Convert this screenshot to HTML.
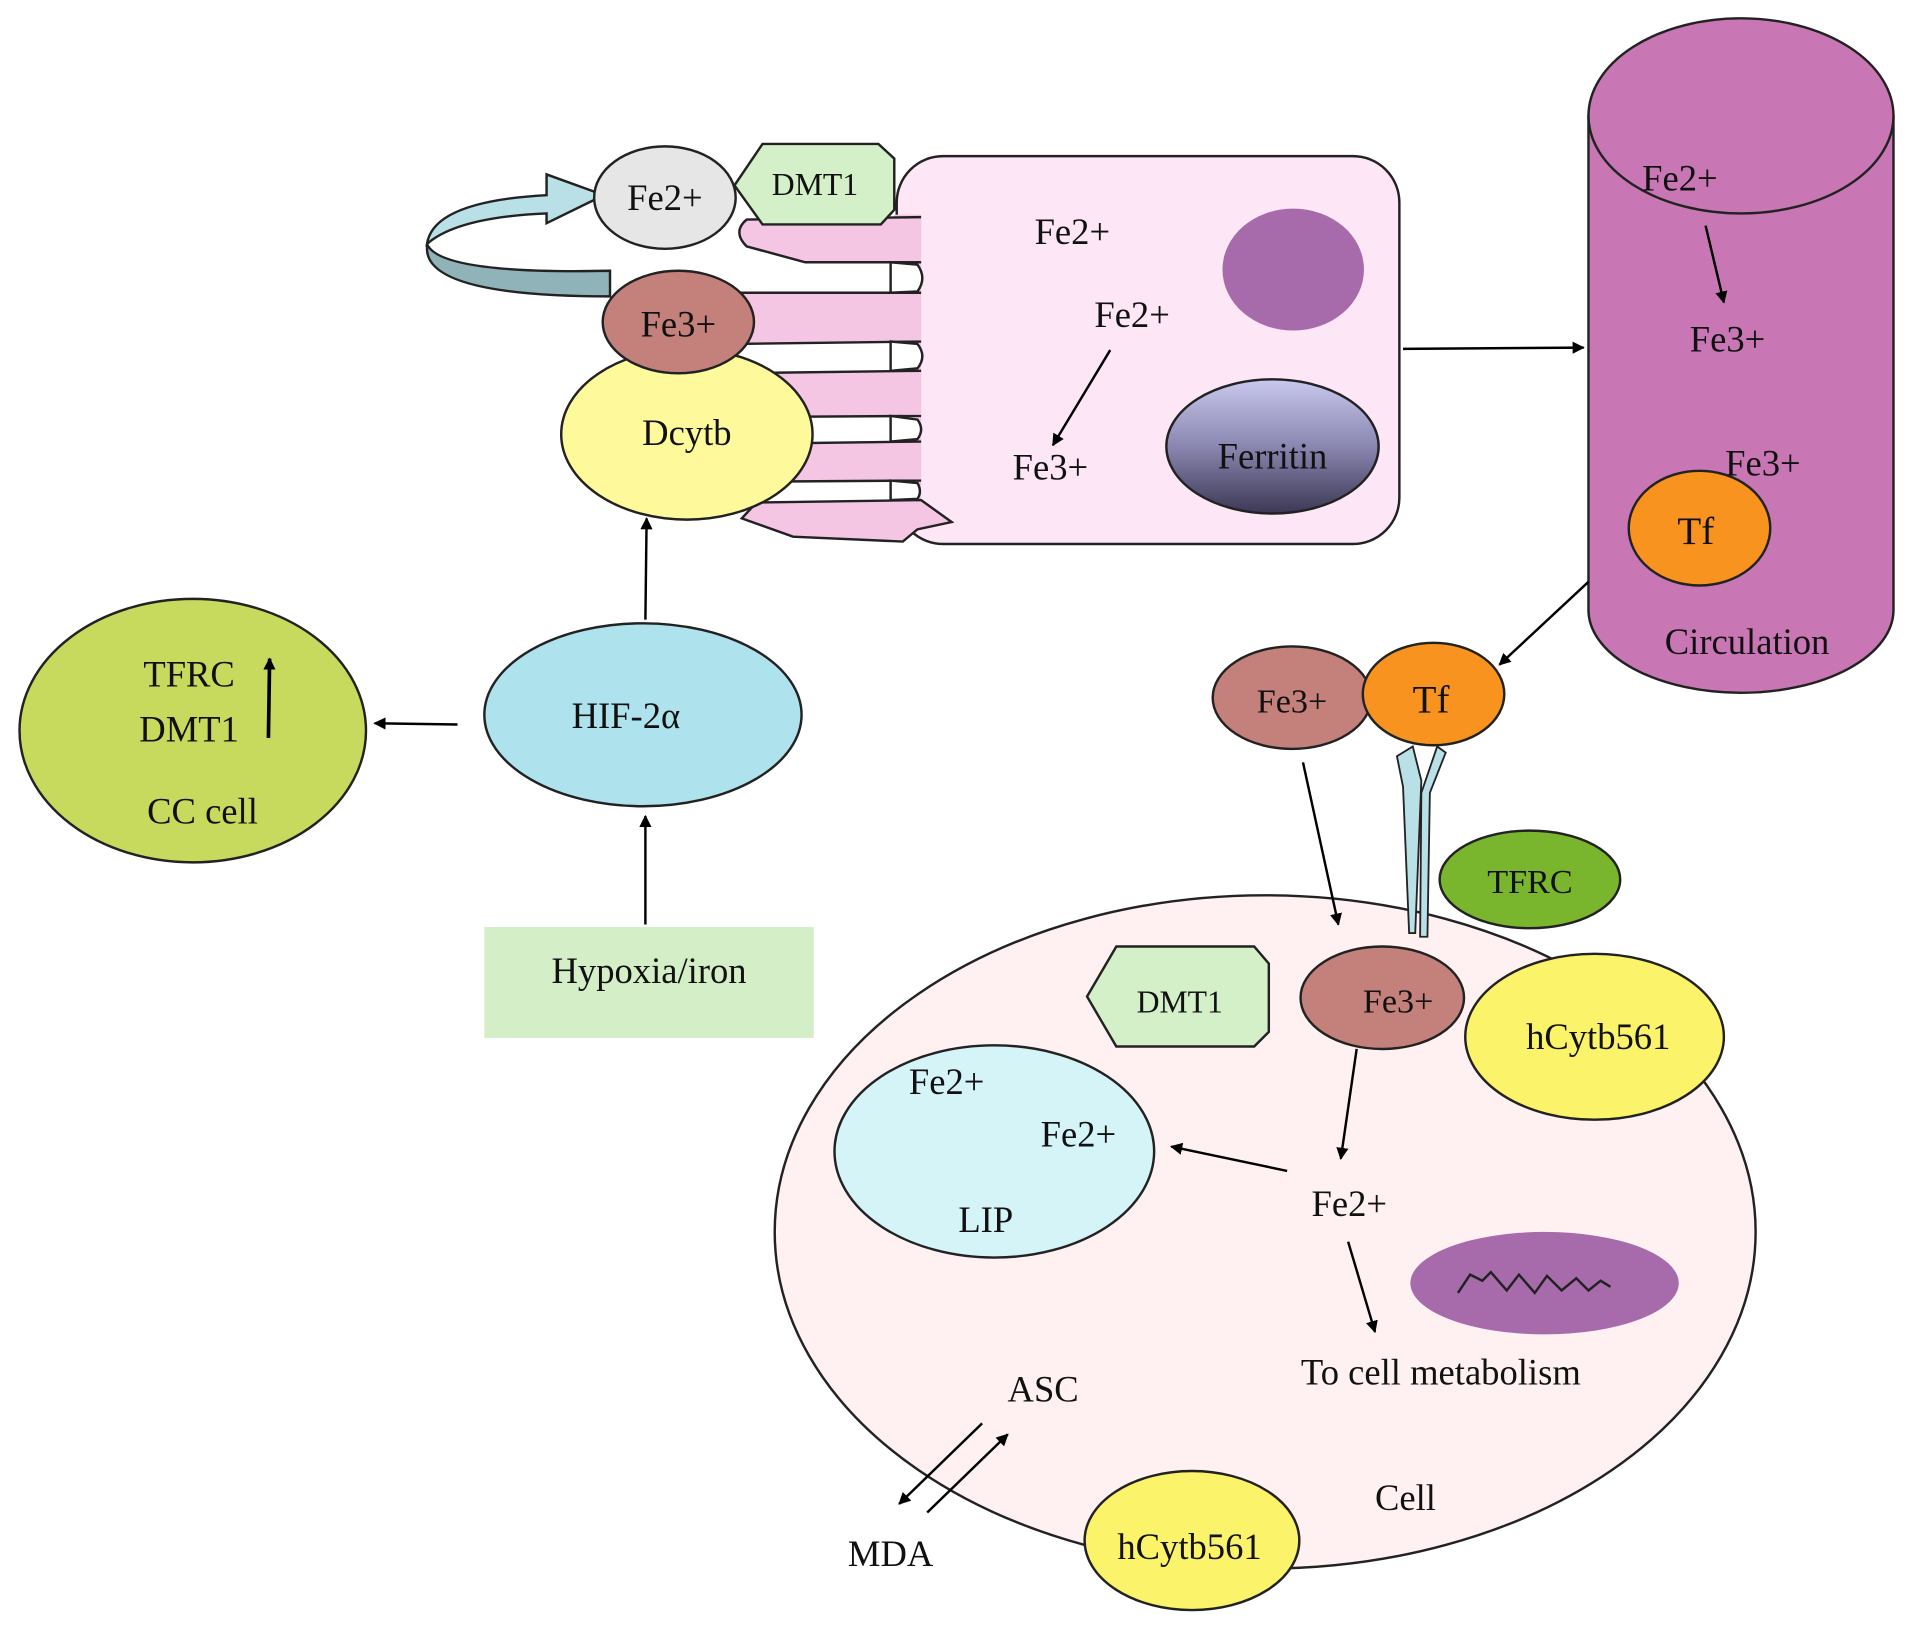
<!DOCTYPE html>
<html><head><meta charset="utf-8"><style>
html,body{margin:0;padding:0;background:#fff;}
svg{display:block;}
text{font-family:"Liberation Serif",serif;fill:#111;}
</style></head><body>
<svg width="1913" height="1632" viewBox="0 0 1568 1338" preserveAspectRatio="none" xmlns="http://www.w3.org/2000/svg">
<defs>
<marker id="ah" markerWidth="10" markerHeight="10" refX="9" refY="5" orient="auto" markerUnits="userSpaceOnUse" viewBox="0 0 10 10">
<path d="M0,0 L10,5 L0,10 z" fill="#000"/></marker>
<linearGradient id="fg" x1="0" y1="0" x2="0" y2="1">
<stop offset="0" stop-color="#c9c8ee"/><stop offset="0.5" stop-color="#8a86b0"/><stop offset="1" stop-color="#3c3854"/></linearGradient>
</defs>

<!-- enterocyte -->
<rect x="735" y="128" width="412" height="318" rx="38" fill="#fde6f6" stroke="#222" stroke-width="2"/>
<rect x="733" y="176" width="22" height="250" fill="#f4c6e4"/>
<!-- microvilli fingers -->
<g fill="#f4c6e4" stroke="#222" stroke-width="2">
<path d="M755,178 L612,180 Q600,190 612,202 L660,215 L755,215"/>
<path d="M755,240 L600,240 L600,282 L755,280"/>
<path d="M755,304 L600,306 L600,342 L755,341"/>
<path d="M755,362 L600,364 L600,395 L755,394"/>
<path d="M755,410 L620,412 L608,425 L650,440 L740,444 L752,434 L780,428 Z"/>
</g>
<rect x="740" y="180" width="15" height="34" fill="#f4c6e4"/>
<rect x="740" y="242" width="15" height="37" fill="#f4c6e4"/>
<rect x="740" y="306" width="15" height="34" fill="#f4c6e4"/>
<rect x="740" y="364" width="15" height="29" fill="#f4c6e4"/>
<g fill="#fff" stroke="#222" stroke-width="2">
<path d="M730,215 L752,217 Q760,228 752,239 L730,240 Z"/>
<path d="M730,280 L752,282 Q760,292 752,302 L730,304 Z"/>
<path d="M730,341 L752,344 Q758,352 752,360 L730,362 Z"/>
<path d="M730,394 L752,396 Q756,403 752,409 L730,410 Z"/>
</g>

<!-- curved arrow -->
<path d="M500,222 L500,243 Q352,243 350,205 L350,200 Q360,225 500,222 Z" fill="#8fb3b8" stroke="#222" stroke-width="2"/>
<path d="M350,200 Q355,165 448,160 L448,143 L495,160 L448,183 L448,175 Q375,178 350,200 Z" fill="#b8e0e6" stroke="#222" stroke-width="2"/>

<ellipse cx="545" cy="162" rx="58" ry="42" fill="#e6e6e6" stroke="#222" stroke-width="2"/>
<text x="545" y="172" font-size="30" text-anchor="middle">Fe2+</text>
<path d="M625,118 L720,118 L733,130 L733,172 L722,184 L625,184 L602,152 Z" fill="#d4f0c8" stroke="#222" stroke-width="2"/>
<text x="668" y="160" font-size="26" text-anchor="middle">DMT1</text>

<ellipse cx="563" cy="356" rx="103" ry="70" fill="#fefa9c" stroke="#222" stroke-width="2"/>
<text x="563" y="365" font-size="30" text-anchor="middle">Dcytb</text>
<ellipse cx="556" cy="264" rx="62" ry="42" fill="#c4807a" stroke="#222" stroke-width="2"/>
<text x="556" y="276" font-size="30" text-anchor="middle">Fe3+</text>

<text x="848" y="200" font-size="30">Fe2+</text>
<text x="897" y="268" font-size="30">Fe2+</text>
<line x1="910" y1="287" x2="863" y2="365" stroke="#000" stroke-width="2" marker-end="url(#ah)"/>
<text x="830" y="393" font-size="30">Fe3+</text>
<ellipse cx="1060" cy="221" rx="58" ry="50" fill="#a76bab"/>
<ellipse cx="1043" cy="366" rx="87" ry="55" fill="url(#fg)" stroke="#222" stroke-width="2"/>
<text x="1043" y="384" font-size="30" text-anchor="middle">Ferritin</text>

<line x1="1150" y1="286" x2="1298" y2="285" stroke="#000" stroke-width="2" marker-end="url(#ah)"/>

<!-- circulation cylinder -->
<path d="M1302,95 L1302,500 A125,68 0 0 0 1552,500 L1552,95 Z" fill="#c877b4" stroke="#222" stroke-width="2"/>
<ellipse cx="1427" cy="95" rx="125" ry="80" fill="#c877b4" stroke="#222" stroke-width="2"/>
<text x="1346" y="156" font-size="30">Fe2+</text>
<line x1="1398" y1="185" x2="1413" y2="248" stroke="#000" stroke-width="2" marker-end="url(#ah)"/>
<text x="1385" y="288" font-size="30">Fe3+</text>
<text x="1414" y="390" font-size="30">Fe3+</text>
<ellipse cx="1393" cy="433" rx="58" ry="47" fill="#f7931e" stroke="#222" stroke-width="2"/>
<text x="1390" y="446" font-size="32" text-anchor="middle">Tf</text>
<text x="1432" y="536" font-size="30" text-anchor="middle">Circulation</text>

<line x1="1302" y1="477" x2="1229" y2="545" stroke="#000" stroke-width="2" marker-end="url(#ah)"/>

<!-- left side -->
<ellipse cx="158" cy="599" rx="142" ry="108" fill="#c8da5e" stroke="#222" stroke-width="2"/>
<text x="155" y="563" font-size="30" text-anchor="middle">TFRC</text>
<text x="155" y="608" font-size="30" text-anchor="middle">DMT1</text>
<text x="166" y="675" font-size="30" text-anchor="middle">CC cell</text>
<line x1="220" y1="605" x2="221" y2="540" stroke="#000" stroke-width="3" marker-end="url(#ah)"/>
<line x1="375" y1="594" x2="307" y2="593" stroke="#000" stroke-width="2" marker-end="url(#ah)"/>
<ellipse cx="527" cy="586" rx="130" ry="75" fill="#aee2ec" stroke="#222" stroke-width="2"/>
<text x="513" y="597" font-size="30" text-anchor="middle">HIF-2α</text>
<line x1="529" y1="508" x2="530" y2="425" stroke="#000" stroke-width="2" marker-end="url(#ah)"/>
<line x1="529" y1="758" x2="529" y2="669" stroke="#000" stroke-width="2" marker-end="url(#ah)"/>
<rect x="397" y="760" width="270" height="91" fill="#d4eec8"/>
<text x="532" y="806" font-size="30" text-anchor="middle">Hypoxia/iron</text>

<!-- cell -->
<ellipse cx="1037" cy="1010" rx="402" ry="276" fill="#fff1f1" stroke="#222" stroke-width="2"/>
<ellipse cx="1059" cy="572" rx="65" ry="42" fill="#c4807a" stroke="#222" stroke-width="2"/>
<text x="1059" y="584" font-size="28" text-anchor="middle">Fe3+</text>
<ellipse cx="1175" cy="569" rx="58" ry="42" fill="#f7931e" stroke="#222" stroke-width="2"/>
<text x="1173" y="584" font-size="32" text-anchor="middle">Tf</text>
<!-- receptor -->
<path d="M1145,620 L1158,612 L1165,640 L1160,765 L1155,765 L1150,645 Z" fill="#b8e0e6" stroke="#222" stroke-width="1.5"/>
<path d="M1185,617 L1178,612 L1165,650 L1164,768 L1170,768 L1172,650 Z" fill="#b8e0e6" stroke="#222" stroke-width="1.5"/>
<ellipse cx="1254" cy="721" rx="74" ry="40" fill="#7ab52e" stroke="#222" stroke-width="2"/>
<text x="1254" y="732" font-size="28" text-anchor="middle">TFRC</text>
<line x1="1068" y1="625" x2="1097" y2="758" stroke="#000" stroke-width="2" marker-end="url(#ah)"/>

<ellipse cx="1307" cy="850" rx="106" ry="68" fill="#fbf36a" stroke="#222" stroke-width="2"/>
<text x="1310" y="860" font-size="30" text-anchor="middle">hCytb561</text>
<ellipse cx="1133" cy="818" rx="67" ry="42" fill="#c4807a" stroke="#222" stroke-width="2"/>
<text x="1146" y="830" font-size="28" text-anchor="middle">Fe3+</text>

<ellipse cx="815" cy="944" rx="131" ry="87" fill="#d4f4f8" stroke="#222" stroke-width="2"/>
<text x="745" y="897" font-size="30">Fe2+</text>
<text x="853" y="940" font-size="30">Fe2+</text>
<text x="808" y="1010" font-size="30" text-anchor="middle">LIP</text>
<path d="M915,776 L1028,776 L1040,790 L1040,846 L1028,858 L915,858 L891,817 Z" fill="#d4f0c8" stroke="#222" stroke-width="2"/>
<text x="967" y="830" font-size="26" text-anchor="middle">DMT1</text>

<line x1="1112" y1="860" x2="1099" y2="950" stroke="#000" stroke-width="2" marker-end="url(#ah)"/>
<text x="1075" y="997" font-size="30">Fe2+</text>
<line x1="1055" y1="960" x2="960" y2="940" stroke="#000" stroke-width="2" marker-end="url(#ah)"/>
<line x1="1105" y1="1018" x2="1127" y2="1092" stroke="#000" stroke-width="2" marker-end="url(#ah)"/>
<ellipse cx="1266" cy="1052" rx="110" ry="42" fill="#a76bab"/>
<path d="M1195,1060 L1205,1045 L1215,1050 L1222,1043 L1235,1058 L1245,1045 L1258,1060 L1268,1046 L1280,1058 L1292,1048 L1302,1058 L1312,1050 L1320,1055" fill="none" stroke="#222" stroke-width="2"/>
<text x="1181" y="1135" font-size="30" text-anchor="middle">To cell metabolism</text>
<text x="855" y="1149" font-size="30" text-anchor="middle">ASC</text>
<line x1="805" y1="1167" x2="737" y2="1233" stroke="#000" stroke-width="2" marker-end="url(#ah)"/>
<line x1="760" y1="1240" x2="826" y2="1176" stroke="#000" stroke-width="2" marker-end="url(#ah)"/>
<text x="730" y="1284" font-size="30" text-anchor="middle">MDA</text>
<text x="1152" y="1238" font-size="30" text-anchor="middle">Cell</text>
<ellipse cx="977" cy="1263" rx="88" ry="57" fill="#fbf36a" stroke="#222" stroke-width="2"/>
<text x="975" y="1278" font-size="30" text-anchor="middle">hCytb561</text>
</svg>
</body></html>
